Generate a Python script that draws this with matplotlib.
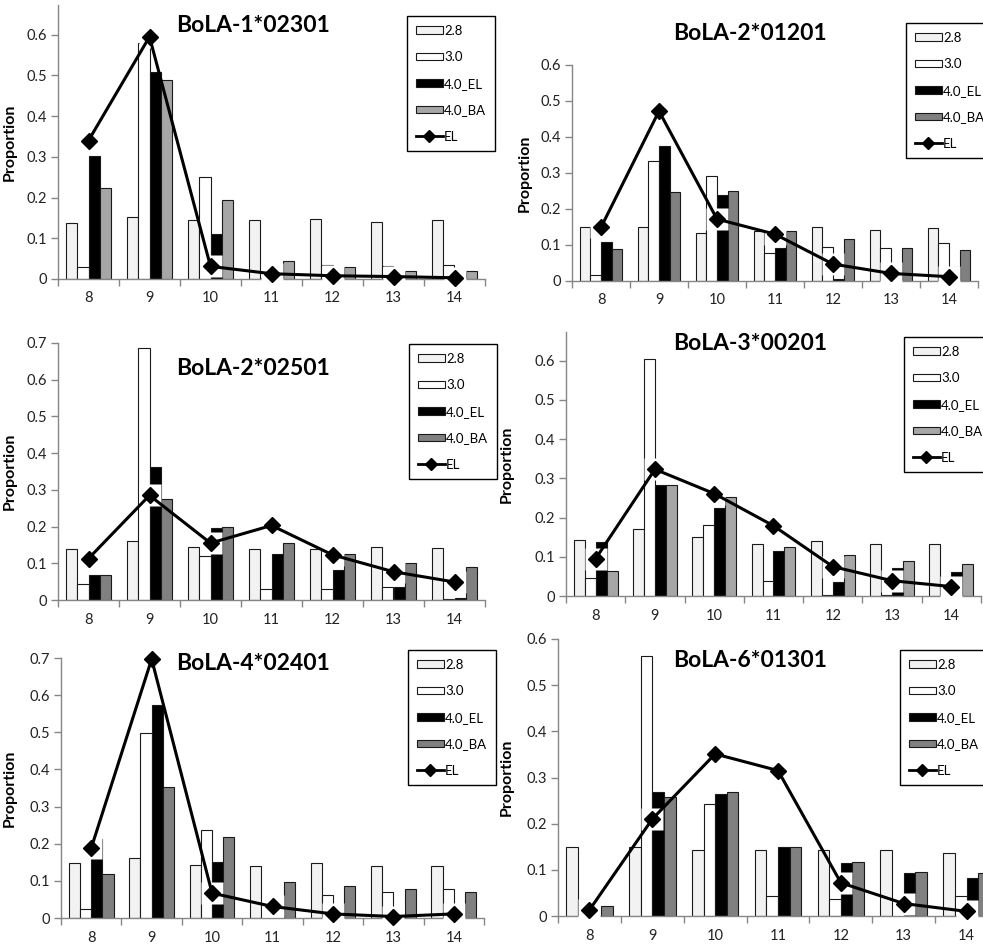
import matplotlib
matplotlib.use("Agg")
import matplotlib.pyplot as plt
import numpy as np
from matplotlib.lines import Line2D
from matplotlib.patches import Patch

plt.rcParams['font.family'] = ['Lato', 'DejaVu Sans']

categories = [8, 9, 10, 11, 12, 13, 14]
series_names = ["2.8", "3.0", "4.0_EL", "4.0_BA"]
line_name = "EL"

titles = ["BoLA-1*02301", "BoLA-2*01201", "BoLA-2*02501",
          "BoLA-3*00201", "BoLA-4*02401", "BoLA-6*01301"]

# values per panel: 2.8, 3.0, 4.0_EL, 4.0_BA, EL line
p1_28 = [0.138, 0.152, 0.146, 0.145, 0.148, 0.141, 0.145]
p1_30 = [0.029, 0.580, 0.250, 0.003, 0.035, 0.032, 0.035]
p1_el = [0.303, 0.508, 0.110, 0.001, 0.002, 0.002, 0.002]
p1_ba = [0.223, 0.489, 0.193, 0.045, 0.029, 0.019, 0.019]
p1_line = [0.340, 0.595, 0.031, 0.013, 0.008, 0.006, 0.003]

p2_28 = [0.149, 0.149, 0.132, 0.139, 0.149, 0.143, 0.146]
p2_30 = [0.017, 0.333, 0.292, 0.079, 0.095, 0.092, 0.106]
p2_el = [0.108, 0.375, 0.240, 0.091, 0.005, 0.003, 0.039]
p2_ba = [0.089, 0.247, 0.251, 0.140, 0.117, 0.091, 0.085]
p2_line = [0.149, 0.472, 0.172, 0.130, 0.047, 0.021, 0.012]

p3_28 = [0.138, 0.160, 0.145, 0.138, 0.138, 0.145, 0.142]
p3_30 = [0.044, 0.686, 0.120, 0.031, 0.031, 0.035, 0.002]
p3_el = [0.067, 0.362, 0.195, 0.124, 0.082, 0.035, 0.006]
p3_ba = [0.069, 0.274, 0.198, 0.154, 0.124, 0.100, 0.089]
p3_line = [0.113, 0.285, 0.155, 0.203, 0.123, 0.077, 0.049]

p4_28 = [0.143, 0.171, 0.150, 0.132, 0.139, 0.132, 0.132]
p4_30 = [0.045, 0.604, 0.182, 0.038, 0.002, 0.003, 0.048]
p4_el = [0.137, 0.284, 0.224, 0.114, 0.036, 0.072, 0.062]
p4_ba = [0.065, 0.284, 0.253, 0.126, 0.104, 0.088, 0.081]
p4_line = [0.095, 0.323, 0.261, 0.179, 0.075, 0.039, 0.024]

p5_28 = [0.148, 0.162, 0.144, 0.141, 0.148, 0.141, 0.141]
p5_30 = [0.025, 0.497, 0.237, 0.001, 0.062, 0.070, 0.077]
p5_el = [0.213, 0.573, 0.152, 0.001, 0.003, 0.002, 0.003]
p5_ba = [0.118, 0.352, 0.218, 0.098, 0.085, 0.078, 0.069]
p5_line = [0.188, 0.697, 0.067, 0.031, 0.011, 0.004, 0.011]

p6_28 = [0.150, 0.150, 0.142, 0.142, 0.142, 0.142, 0.137]
p6_30 = [0.035, 0.564, 0.243, 0.043, 0.036, 0.001, 0.043]
p6_el = [0.001, 0.268, 0.265, 0.150, 0.114, 0.093, 0.082]
p6_ba = [0.022, 0.257, 0.268, 0.150, 0.116, 0.095, 0.093]
p6_line = [0.013, 0.210, 0.351, 0.315, 0.072, 0.027, 0.010]

panels = [
    (p1_28, p1_30, p1_el, p1_ba, p1_line),
    (p2_28, p2_30, p2_el, p2_ba, p2_line),
    (p3_28, p3_30, p3_el, p3_ba, p3_line),
    (p4_28, p4_30, p4_el, p4_ba, p4_line),
    (p5_28, p5_30, p5_el, p5_ba, p5_line),
    (p6_28, p6_30, p6_el, p6_ba, p6_line),
]

W, H = 983, 947
fig = plt.figure(figsize=(W / 100, H / 100), dpi=100)

# layout in pixels: left, right, top, bottom of axes
ax_px = [
    (58, 485, 5, 279),
    (572, 978, 65, 281),
    (58, 485, 343, 600),
    (566, 981, 332, 596),
    (61, 484, 658, 918),
    (558, 998, 639, 916),
]
ylims = [0.673, 0.6, 0.7, 0.673, 0.7, 0.6]
yticks = [np.arange(0, 0.61, 0.1), np.arange(0, 0.61, 0.1), np.arange(0, 0.71, 0.1),
          np.arange(0, 0.61, 0.1), np.arange(0, 0.71, 0.1), np.arange(0, 0.61, 0.1)]
ba_colors = ["#a6a6a6", "#808080", "#808080", "#a6a6a6", "#808080", "#808080"]
title_px = [(253, 26), (750, 33), (253, 368), (750, 343), (253, 663), (750, 660)]
legend_px = [(407, 16), (906, 23), (409, 344), (904, 337), (408, 650), (900, 650)]
ylabel_off = [41, 40, 41, 52, 44, 44]

axis_gray = "#868686"
x = np.arange(len(categories))
bw = 0.185

for i, (vals, (l, r, t, b)) in enumerate(zip(panels, ax_px)):
    ax = fig.add_axes([l / W, 1 - b / H, (r - l) / W, (b - t) / H])
    colors = ["#f2f2f2", "#ffffff", "#000000", ba_colors[i]]
    for k in range(4):
        ax.bar(x + (k - 1.5) * bw, vals[k], width=bw, color=colors[k],
               edgecolor="#1a1a1a", linewidth=0.8, zorder=2)
    # white label-background halos behind markers
    ax.plot(x, vals[4], linestyle="none", marker="s", markersize=16,
            markerfacecolor="white", markeredgecolor="none", zorder=3,
            clip_on=False)
    ax.plot(x, vals[4], color="black", linewidth=2.2, marker="D",
            markersize=8.5, markerfacecolor="black", markeredgecolor="black",
            zorder=4, clip_on=False)
    ax.set_xlim(-0.5, len(categories) - 0.5)
    ax.set_ylim(0, ylims[i])
    ax.set_yticks(yticks[i])
    ax.set_yticklabels(["0"] + ["%.1f" % v for v in yticks[i][1:]])
    ax.set_xticks(x)
    ax.set_xticklabels([str(c) for c in categories])
    ax.set_xticks(np.arange(-0.5, len(categories), 1.0), minor=True)
    ax.tick_params(axis="x", which="major", length=0, pad=9, labelsize=10.5,
                   labelcolor="#222222")
    ax.tick_params(axis="x", which="minor", length=5, color=axis_gray, width=1)
    ax.tick_params(axis="y", length=5, color=axis_gray, width=1, labelsize=10.5,
                   labelcolor="#222222", pad=3)
    for s in ["top", "right"]:
        ax.spines[s].set_visible(False)
    for s in ["left", "bottom"]:
        ax.spines[s].set_color(axis_gray)
        ax.spines[s].set_linewidth(1)
    ax.set_ylabel("Proportion", fontsize=11.5, fontweight="bold")
    ax.yaxis.set_label_coords(-ylabel_off[i] / (r - l), 0.5)

    tx, ty = title_px[i]
    fig.text(tx / W, 1 - ty / H, titles[i], ha="center", va="center",
             fontsize=16.5, fontweight="bold")

    handles = [Patch(facecolor=colors[k], edgecolor="#1a1a1a", linewidth=0.8)
               for k in range(4)]
    handles.append(Line2D([0], [0], color="black", linewidth=2, marker="D",
                          markersize=6, markerfacecolor="black"))
    lx, ly = legend_px[i]
    leg = ax.legend(handles, series_names + [line_name], loc="upper left",
                    bbox_to_anchor=(lx / W, 1 - ly / H),
                    bbox_transform=fig.transFigure, borderaxespad=0,
                    fontsize=9.5, handlelength=2.1, handleheight=0.5,
                    handletextpad=0.05, labelspacing=1.1, borderpad=0.65,
                    fancybox=False, framealpha=1, edgecolor="black")
    leg.get_frame().set_linewidth(1)
    leg.set_zorder(10)

fig.savefig("out.png", dpi=100)
